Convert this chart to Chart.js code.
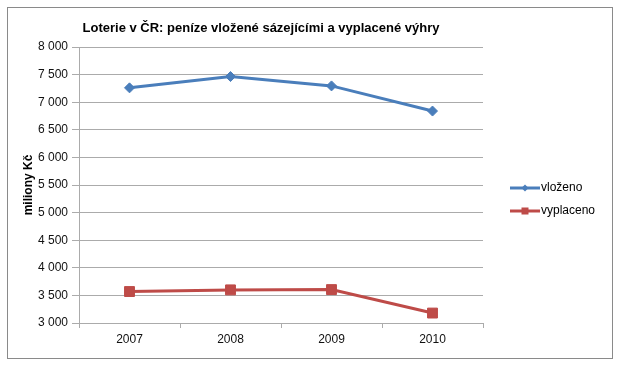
<!DOCTYPE html>
<html>
<head>
<meta charset="utf-8">
<script src="https://cdn.jsdelivr.net/npm/chart.js@4.4.1/dist/chart.umd.min.js"></script>
<style>
  html, body { margin: 0; padding: 0; background: #fff; }
  #wrap { width: 620px; height: 369px; position: relative; }
</style>
</head>
<body>
<div id="wrap"><canvas id="c" width="620" height="369"></canvas></div>
<script>
const chartTitle = 'Loterie v ČR: peníze vložené sázejícími a vyplacené výhry';
const yAxisTitle = 'miliony Kč';
const years = ['2007', '2008', '2009', '2010'];
const vlozeno = [7260, 7465, 7295, 6840];
const vyplaceno = [3570, 3600, 3605, 3180];
const seriesNames = ['vloženo', 'vyplaceno'];

const FONT = '"Liberation Sans", Arial, sans-serif';
const GRID = '#ababab';

function fmt(v) { return String(v).replace(/\B(?=(\d{3})+(?!\d))/g, ' '); }

const framePlugin = {
  id: 'frame',
  beforeDraw(chart) {
    const ctx = chart.ctx;
    ctx.save();
    ctx.fillStyle = '#fff';
    ctx.fillRect(0, 0, chart.width, chart.height);
    ctx.strokeStyle = '#8a8a8a';
    ctx.lineWidth = 1;
    ctx.strokeRect(7.5, 7.5, 605, 351);
    ctx.restore();
  },
  afterDraw(chart) {
    const ctx = chart.ctx;
    const ca = chart.chartArea;
    ctx.save();
    // title
    ctx.fillStyle = '#000';
    ctx.font = 'bold 13px ' + FONT;
    ctx.textAlign = 'center';
    ctx.textBaseline = 'middle';
    ctx.fillText(chartTitle, 261, 28);
    // legend
    const items = chart.data.datasets;
    const lx = ca.right + 27;
    items.forEach((ds, i) => {
      const y = 188 + i * 23;
      ctx.strokeStyle = ds.borderColor;
      ctx.lineWidth = 3;
      ctx.beginPath();
      ctx.moveTo(lx, y);
      ctx.lineTo(lx + 30, y);
      ctx.stroke();
      ctx.fillStyle = ds.backgroundColor;
      const cx = lx + 15;
      if (ds.pointStyle === 'rectRot') {
        ctx.beginPath();
        ctx.moveTo(cx, y - 3.5); ctx.lineTo(cx + 3.5, y); ctx.lineTo(cx, y + 3.5); ctx.lineTo(cx - 3.5, y);
        ctx.closePath(); ctx.fill();
      } else {
        ctx.fillRect(cx - 3.5, y - 3.5, 7, 7);
      }
      ctx.fillStyle = '#000';
      ctx.font = '12px ' + FONT;
      ctx.textAlign = 'left';
      ctx.fillText(ds.label, lx + 31, y);
    });
    ctx.restore();
  }
};

new Chart(document.getElementById('c'), {
  type: 'line',
  data: {
    labels: years,
    datasets: [
      {
        label: seriesNames[0], data: vlozeno,
        borderColor: '#4a7ebb', backgroundColor: '#4a7ebb',
        borderWidth: 3, pointStyle: 'rectRot', pointRadius: 5, pointBorderWidth: 1,
        tension: 0
      },
      {
        label: seriesNames[1], data: vyplaceno,
        borderColor: '#be4b48', backgroundColor: '#be4b48',
        borderWidth: 3, pointStyle: 'rect', pointRadius: 7, pointBorderWidth: 1,
        tension: 0
      }
    ]
  },
  options: {
    responsive: false,
    animation: false,
    devicePixelRatio: 1,
    layout: { padding: { left: 10, right: 137, top: 47, bottom: 0 } },
    plugins: { legend: { display: false }, title: { display: false }, tooltip: { enabled: false } },
    scales: {
      x: {
        offset: true,
        grid: { drawOnChartArea: false, drawTicks: true, tickLength: 5, color: GRID, offset: true },
        border: { display: true, color: GRID },
        ticks: { color: '#111', font: { family: FONT, size: 12 }, padding: 4, maxRotation: 0 },
        afterFit(s) { s.height = 46; }
      },
      y: {
        min: 3000, max: 8000,
        ticks: { stepSize: 500, color: '#111', font: { family: FONT, size: 12 }, padding: 4, callback: v => fmt(v) },
        grid: { color: GRID, tickLength: 7, drawTicks: true },
        border: { display: true, color: GRID },
        title: { display: true, text: yAxisTitle, color: '#000', font: { family: FONT, size: 12, weight: 'bold' }, padding: { top: 11, bottom: 0 } },
        afterFit(s) { s.width = 69; }
      }
    }
  },
  plugins: [framePlugin]
});
</script>
</body>
</html>
